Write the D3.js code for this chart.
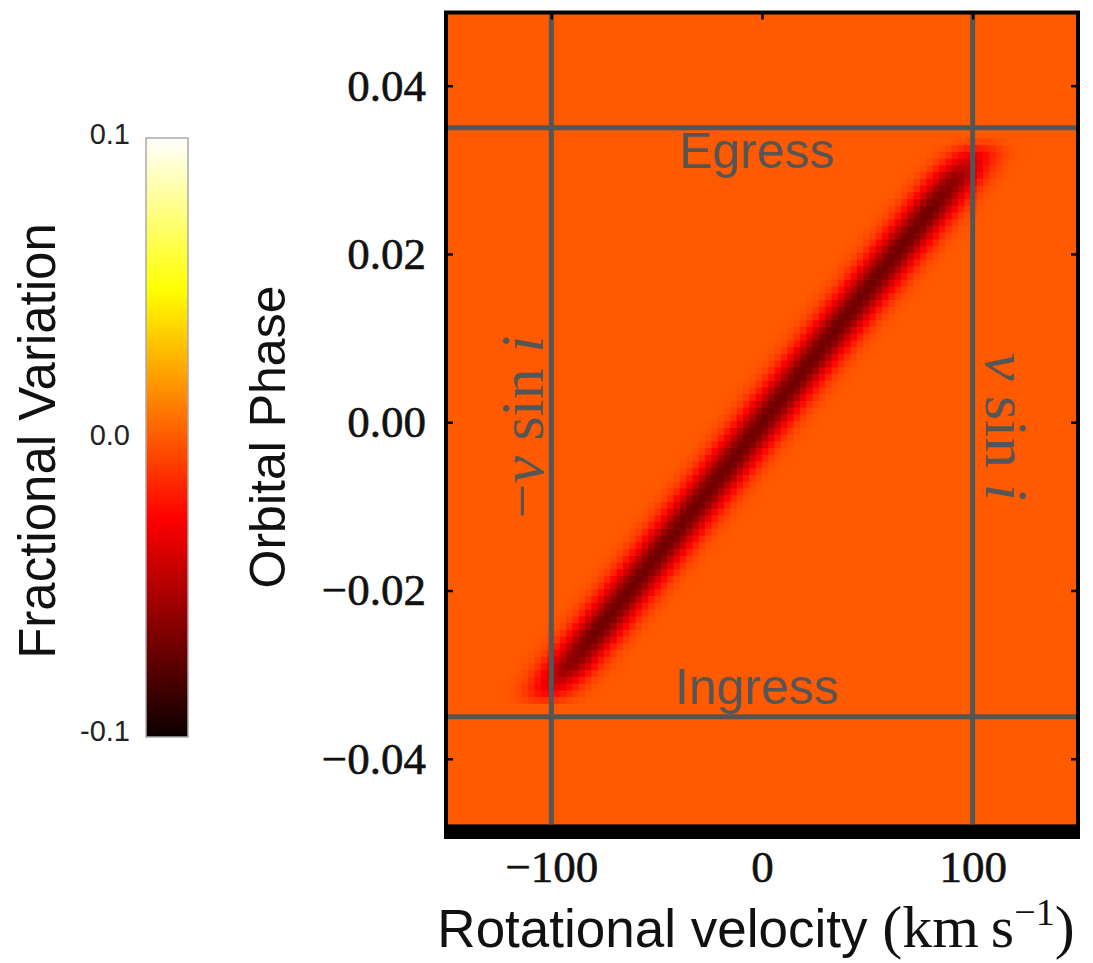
<!DOCTYPE html>
<html>
<head>
<meta charset="utf-8">
<script src="https://cdn.jsdelivr.net/npm/d3@7.9.0/dist/d3.min.js"></script>
<style>
  body { margin: 0; background: #fff; }
  svg { display: block; }
</style>
</head>
<body>
<svg id="chart" width="1093" height="963"></svg>
<script>
// ticks and reference lines
const xTicks = [-100, 0, 100];
const yTicks = [-0.04, -0.02, 0.00, 0.02, 0.04];
const cbTicks = [-0.1, 0.0, 0.1];
const vsiniLines = [-100, 100];
const transitLines = [-0.035, 0.035];

// Doppler shadow track
const trackPhase = [-0.0338, -0.0318, -0.0292, -0.0255, 0.0, 0.0255, 0.0292, 0.0318, 0.0338];
const trackVel   = [-104, -100, -92, -80.5, 0, 80.5, 92, 100, 104];
const trackDepth = [0, -0.032, -0.060, -0.070, -0.070, -0.070, -0.060, -0.032, 0];
const lineSigma = 8.5;        // km/s
const velStep = 3;            // km/s per cell
const phaseStep = 0.0008;     // phase per cell
const imageExtent = [-0.0478, 0.0487];

// matplotlib "hot"
const hotStops = [0, 0.365079, 0.746032, 1];
const hotColors = ["#0b0000", "#ff0000", "#ffff00", "#ffffff"];

const svg = d3.select("#chart");
const sans = "'Liberation Sans', Arial, sans-serif";
const serif = "'Liberation Serif', 'Times New Roman', serif";

const x = d3.scaleLinear().domain([-150, 150]).range([446, 1078]);
const y = d3.scaleLinear().domain([-0.0493, 0.0487]).range([837, 12.5]);

const color = d3.scaleLinear()
    .domain(hotStops.map(t => -0.1 + 0.2 * t))
    .range(hotColors)
    .clamp(true);

// axes background (black strip shows below the image)
svg.append("rect")
    .attr("x", x(-150)).attr("y", y(0.0487))
    .attr("width", x(150) - x(-150)).attr("height", y(-0.0493) - y(0.0487))
    .attr("fill", "#000");

svg.append("rect")
    .attr("x", x(-150)).attr("y", y(imageExtent[1]))
    .attr("width", x(150) - x(-150)).attr("height", y(imageExtent[0]) - y(imageExtent[1]))
    .attr("fill", color(0));

// build the cells around the track
const depthAt = d3.scaleLinear().domain(trackPhase).range(trackDepth).clamp(true);
const velAt = d3.scaleLinear().domain(trackPhase).range(trackVel);
const cells = [];
for (let p = imageExtent[0]; p < imageExtent[1]; p += phaseStep) {
  const pc = p + phaseStep / 2;
  const depth = depthAt(pc);
  if (depth === 0) continue;
  const c = velAt(pc);
  for (let v = -150; v < 150; v += velStep) {
    const vc = v + velStep / 2;
    const val = depth * Math.exp(-((vc - c) ** 2) / (2 * lineSigma * lineSigma));
    if (Math.abs(val) > 0.0004) cells.push({ v: v, p: p, val: val });
  }
}

svg.append("g").selectAll("rect")
  .data(cells)
  .join("rect")
    .attr("x", d => x(d.v))
    .attr("y", d => y(d.p + phaseStep))
    .attr("width", x(velStep) - x(0) + 0.6)
    .attr("height", y(0) - y(phaseStep) + 0.6)
    .attr("fill", d => color(d.val));

// vsini and transit lines
svg.append("g").selectAll("line")
  .data(vsiniLines)
  .join("line")
    .attr("x1", d => x(d)).attr("x2", d => x(d))
    .attr("y1", y(0.0487)).attr("y2", y(imageExtent[0]))
    .attr("stroke", "#555").attr("stroke-width", 5);

svg.append("g").selectAll("line")
  .data(transitLines)
  .join("line")
    .attr("x1", x(-150)).attr("x2", x(150))
    .attr("y1", d => y(d)).attr("y2", d => y(d))
    .attr("stroke", "#555").attr("stroke-width", 5);

// annotations
svg.append("text")
    .attr("x", 757).attr("y", 168)
    .attr("text-anchor", "middle")
    .attr("font-family", sans).attr("font-size", 50)
    .attr("fill", "#555")
    .text("Egress");

svg.append("text")
    .attr("x", 757).attr("y", 704)
    .attr("text-anchor", "middle")
    .attr("font-family", sans).attr("font-size", 50)
    .attr("fill", "#555")
    .text("Ingress");

function vsini(g, minus) {
  const t = g.append("text")
      .attr("text-anchor", "middle")
      .attr("font-family", serif).attr("font-size", 62)
      .attr("fill", "#555");
  if (minus) t.append("tspan").text("\u2212");
  t.append("tspan").attr("font-style", "italic").text("v");
  t.append("tspan").text(" sin ");
  t.append("tspan").attr("font-style", "italic").text("i");
}
vsini(svg.append("g").attr("transform", "translate(543,427) rotate(-90)"), true);
vsini(svg.append("g").attr("transform", "translate(986,427) rotate(90)"), false);

// frame
svg.append("rect")
    .attr("x", x(-150)).attr("y", y(0.0487))
    .attr("width", x(150) - x(-150)).attr("height", y(-0.0493) - y(0.0487))
    .attr("fill", "none").attr("stroke", "#000").attr("stroke-width", 4);

// axes
const fmtY = d => (d < 0 ? "\u2212" : "") + Math.abs(d).toFixed(2);
const fmtX = d => (d < 0 ? "\u2212" : "") + Math.abs(d);

svg.append("g")
    .attr("transform", `translate(${x(-150)},0)`)
    .call(d3.axisLeft(y).tickValues(yTicks).tickFormat(fmtY).tickSize(-7).tickPadding(20));
svg.append("g")
    .attr("transform", `translate(${x(150)},0)`)
    .call(d3.axisRight(y).tickValues(yTicks).tickFormat("").tickSize(-7));
const xAxis = svg.append("g")
    .attr("transform", `translate(0,${y(-0.0493)})`)
    .call(d3.axisBottom(x).tickValues(xTicks).tickFormat(fmtX).tickSize(-7).tickPadding(4));
svg.append("g")
    .attr("transform", `translate(0,${y(0.0487)})`)
    .call(d3.axisTop(x).tickValues(xTicks).tickFormat("").tickSize(-7));

svg.selectAll(".domain").remove();
svg.selectAll(".tick line").attr("stroke", "#000").attr("stroke-width", 2.5);
svg.selectAll(".tick text")
    .attr("font-family", serif).attr("font-size", 45).attr("fill", "#111")
    .attr("stroke", "#111").attr("stroke-width", 0.6);
xAxis.selectAll(".tick text").attr("dy", "0.9em");

// axis titles
const xl = svg.append("text")
    .attr("x", 756).attr("y", 947)
    .attr("text-anchor", "middle")
    .attr("fill", "#111");
xl.append("tspan").attr("font-family", sans).attr("font-size", 53).text("Rotational velocity ");
xl.append("tspan").attr("font-family", serif).attr("font-size", 60).text("(km\u2009s");
xl.append("tspan").attr("font-family", serif).attr("font-size", 38).attr("dy", -22).text("\u22121");
xl.append("tspan").attr("font-family", serif).attr("font-size", 60).attr("dy", 22).text(")");

svg.append("text")
    .attr("transform", "translate(285,437) rotate(-90)")
    .attr("text-anchor", "middle")
    .attr("font-family", sans).attr("font-size", 50)
    .attr("fill", "#111")
    .text("Orbital Phase");

svg.append("text")
    .attr("transform", "translate(55,441) rotate(-90)")
    .attr("text-anchor", "middle")
    .attr("font-family", sans).attr("font-size", 51)
    .attr("fill", "#111")
    .text("Fractional Variation");

// colorbar
const cb = d3.scaleLinear().domain([-0.1, 0.1]).range([737, 138]);
const grad = svg.append("defs").append("linearGradient")
    .attr("id", "hot").attr("x1", 0).attr("y1", 1).attr("x2", 0).attr("y2", 0);
grad.selectAll("stop")
  .data(hotStops)
  .join("stop")
    .attr("offset", d => d)
    .attr("stop-color", (d, i) => hotColors[i]);

svg.append("rect")
    .attr("x", 146).attr("y", cb(0.1))
    .attr("width", 42).attr("height", cb(-0.1) - cb(0.1))
    .attr("fill", "url(#hot)")
    .attr("stroke", "#aaa").attr("stroke-width", 1.5);

svg.append("g").selectAll("text")
  .data(cbTicks)
  .join("text")
    .attr("x", 130)
    .attr("y", d => cb(d) + (d > 0 ? -2 : d < 0 ? -4 : 0))
    .attr("dominant-baseline", "middle")
    .attr("text-anchor", "end")
    .attr("font-family", sans).attr("font-size", 29)
    .attr("fill", "#222")
    .text(d => d.toFixed(1));
</script>
</body>
</html>
